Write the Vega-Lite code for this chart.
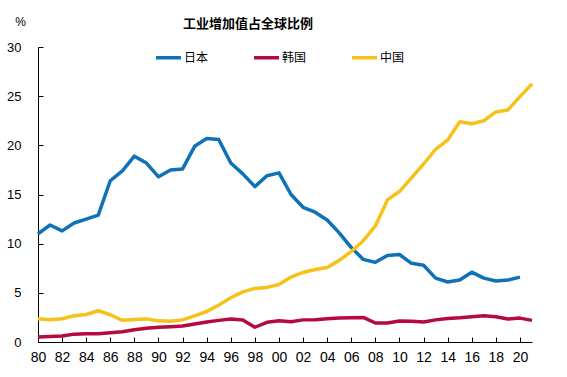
{
  "$schema": "https://vega.github.io/schema/vega-lite/v6.json",
  "autosize": "none",
  "padding": {"left": 38, "top": 47, "right": 35, "bottom": 35},
  "width": 494,
  "height": 295,
  "background": "white",
  "config": {"view": {"stroke": null}},
  "title": {
    "text": "工业增加值占全球比例",
    "font": "Noto Sans CJK SC",
    "fontSize": 13,
    "fontWeight": "bold",
    "color": "#000000",
    "anchor": "middle",
    "frame": "group",
    "dx": -37,
    "dy": 32,
    "offset": 16
  },
  "data": {
    "values": [
      {"year": 1980, "country": "日本", "value": 11.0},
      {"year": 1981, "country": "日本", "value": 11.9},
      {"year": 1982, "country": "日本", "value": 11.3},
      {"year": 1983, "country": "日本", "value": 12.1},
      {"year": 1984, "country": "日本", "value": 12.5},
      {"year": 1985, "country": "日本", "value": 12.9},
      {"year": 1986, "country": "日本", "value": 16.4},
      {"year": 1987, "country": "日本", "value": 17.4},
      {"year": 1988, "country": "日本", "value": 18.9},
      {"year": 1989, "country": "日本", "value": 18.2},
      {"year": 1990, "country": "日本", "value": 16.8},
      {"year": 1991, "country": "日本", "value": 17.5},
      {"year": 1992, "country": "日本", "value": 17.6},
      {"year": 1993, "country": "日本", "value": 19.9},
      {"year": 1994, "country": "日本", "value": 20.7},
      {"year": 1995, "country": "日本", "value": 20.6},
      {"year": 1996, "country": "日本", "value": 18.2},
      {"year": 1997, "country": "日本", "value": 17.1},
      {"year": 1998, "country": "日本", "value": 15.8},
      {"year": 1999, "country": "日本", "value": 16.9},
      {"year": 2000, "country": "日本", "value": 17.2},
      {"year": 2001, "country": "日本", "value": 15.0},
      {"year": 2002, "country": "日本", "value": 13.7},
      {"year": 2003, "country": "日本", "value": 13.2},
      {"year": 2004, "country": "日本", "value": 12.4},
      {"year": 2005, "country": "日本", "value": 11.1},
      {"year": 2006, "country": "日本", "value": 9.6},
      {"year": 2007, "country": "日本", "value": 8.4},
      {"year": 2008, "country": "日本", "value": 8.1},
      {"year": 2009, "country": "日本", "value": 8.8},
      {"year": 2010, "country": "日本", "value": 8.9},
      {"year": 2011, "country": "日本", "value": 8.0},
      {"year": 2012, "country": "日本", "value": 7.8},
      {"year": 2013, "country": "日本", "value": 6.5},
      {"year": 2014, "country": "日本", "value": 6.1},
      {"year": 2015, "country": "日本", "value": 6.3},
      {"year": 2016, "country": "日本", "value": 7.1},
      {"year": 2017, "country": "日本", "value": 6.5},
      {"year": 2018, "country": "日本", "value": 6.2},
      {"year": 2019, "country": "日本", "value": 6.3},
      {"year": 2020, "country": "日本", "value": 6.6},
      {"year": 1980, "country": "韩国", "value": 0.5},
      {"year": 1981, "country": "韩国", "value": 0.57},
      {"year": 1982, "country": "韩国", "value": 0.6},
      {"year": 1983, "country": "韩国", "value": 0.8},
      {"year": 1984, "country": "韩国", "value": 0.85},
      {"year": 1985, "country": "韩国", "value": 0.85},
      {"year": 1986, "country": "韩国", "value": 0.95},
      {"year": 1987, "country": "韩国", "value": 1.05},
      {"year": 1988, "country": "韩国", "value": 1.25},
      {"year": 1989, "country": "韩国", "value": 1.4},
      {"year": 1990, "country": "韩国", "value": 1.5},
      {"year": 1991, "country": "韩国", "value": 1.55},
      {"year": 1992, "country": "韩国", "value": 1.62},
      {"year": 1993, "country": "韩国", "value": 1.83},
      {"year": 1994, "country": "韩国", "value": 2.03},
      {"year": 1995, "country": "韩国", "value": 2.2},
      {"year": 1996, "country": "韩国", "value": 2.33},
      {"year": 1997, "country": "韩国", "value": 2.23},
      {"year": 1998, "country": "韩国", "value": 1.5},
      {"year": 1999, "country": "韩国", "value": 2.0},
      {"year": 2000, "country": "韩国", "value": 2.16},
      {"year": 2001, "country": "韩国", "value": 2.06},
      {"year": 2002, "country": "韩国", "value": 2.25},
      {"year": 2003, "country": "韩国", "value": 2.27},
      {"year": 2004, "country": "韩国", "value": 2.37},
      {"year": 2005, "country": "韩国", "value": 2.45},
      {"year": 2006, "country": "韩国", "value": 2.47},
      {"year": 2007, "country": "韩国", "value": 2.5},
      {"year": 2008, "country": "韩国", "value": 1.93},
      {"year": 2009, "country": "韩国", "value": 1.93},
      {"year": 2010, "country": "韩国", "value": 2.13},
      {"year": 2011, "country": "韩国", "value": 2.1},
      {"year": 2012, "country": "韩国", "value": 2.03},
      {"year": 2013, "country": "韩国", "value": 2.25},
      {"year": 2014, "country": "韩国", "value": 2.4},
      {"year": 2015, "country": "韩国", "value": 2.47},
      {"year": 2016, "country": "韩国", "value": 2.57},
      {"year": 2017, "country": "韩国", "value": 2.67},
      {"year": 2018, "country": "韩国", "value": 2.57},
      {"year": 2019, "country": "韩国", "value": 2.33},
      {"year": 2020, "country": "韩国", "value": 2.43},
      {"year": 2021, "country": "韩国", "value": 2.2},
      {"year": 1980, "country": "中国", "value": 2.37},
      {"year": 1981, "country": "中国", "value": 2.27},
      {"year": 1982, "country": "中国", "value": 2.37},
      {"year": 1983, "country": "中国", "value": 2.67},
      {"year": 1984, "country": "中国", "value": 2.8},
      {"year": 1985, "country": "中国", "value": 3.18},
      {"year": 1986, "country": "中国", "value": 2.77},
      {"year": 1987, "country": "中国", "value": 2.2},
      {"year": 1988, "country": "中国", "value": 2.3},
      {"year": 1989, "country": "中国", "value": 2.35},
      {"year": 1990, "country": "中国", "value": 2.15},
      {"year": 1991, "country": "中国", "value": 2.1},
      {"year": 1992, "country": "中国", "value": 2.25},
      {"year": 1993, "country": "中国", "value": 2.65},
      {"year": 1994, "country": "中国", "value": 3.1},
      {"year": 1995, "country": "中国", "value": 3.75},
      {"year": 1996, "country": "中国", "value": 4.5},
      {"year": 1997, "country": "中国", "value": 5.1},
      {"year": 1998, "country": "中国", "value": 5.45},
      {"year": 1999, "country": "中国", "value": 5.55},
      {"year": 2000, "country": "中国", "value": 5.85},
      {"year": 2001, "country": "中国", "value": 6.6},
      {"year": 2002, "country": "中国", "value": 7.07},
      {"year": 2003, "country": "中国", "value": 7.38},
      {"year": 2004, "country": "中国", "value": 7.58},
      {"year": 2005, "country": "中国", "value": 8.3},
      {"year": 2006, "country": "中国", "value": 9.2},
      {"year": 2007, "country": "中国", "value": 10.3},
      {"year": 2008, "country": "中国", "value": 11.8},
      {"year": 2009, "country": "中国", "value": 14.45},
      {"year": 2010, "country": "中国", "value": 15.3},
      {"year": 2011, "country": "中国", "value": 16.7},
      {"year": 2012, "country": "中国", "value": 18.1},
      {"year": 2013, "country": "中国", "value": 19.6},
      {"year": 2014, "country": "中国", "value": 20.55},
      {"year": 2015, "country": "中国", "value": 22.4},
      {"year": 2016, "country": "中国", "value": 22.2},
      {"year": 2017, "country": "中国", "value": 22.5},
      {"year": 2018, "country": "中国", "value": 23.4},
      {"year": 2019, "country": "中国", "value": 23.6},
      {"year": 2020, "country": "中国", "value": 24.95},
      {"year": 2021, "country": "中国", "value": 26.25}
    ]
  },
  "mark": {"type": "line", "strokeJoin": "round", "strokeCap": "butt"},
  "encoding": {
    "x": {
      "field": "year",
      "type": "quantitative",
      "scale": {"domain": [1980, 2021], "nice": false, "zero": false},
      "axis": {
        "title": null,
        "values": [1980, 1982, 1984, 1986, 1988, 1990, 1992, 1994, 1996, 1998, 2000, 2002, 2004, 2006, 2008, 2010, 2012, 2014, 2016, 2018, 2020],
        "labelExpr": "slice(toString(datum.value), 2)",
        "grid": false,
        "domainColor": "#000000",
        "domainWidth": 1,
        "tickColor": "#000000",
        "tickSize": -5,
        "labelPadding": 13,
        "labelFont": "Liberation Sans Narrow, Arial Narrow, Liberation Sans",
        "labelFontSize": 14,
        "labelColor": "#000000",
        "labelFlush": false,
        "labelOverlap": false
      }
    },
    "y": {
      "field": "value",
      "type": "quantitative",
      "scale": {"domain": [0, 30], "nice": false},
      "axis": {
        "values": [0, 5, 10, 15, 20, 25, 30],
        "grid": false,
        "domainColor": "#000000",
        "domainWidth": 1,
        "tickColor": "#000000",
        "tickSize": -5,
        "labelPadding": 22,
        "labelFont": "Liberation Sans Narrow, Arial Narrow, Liberation Sans",
        "labelFontSize": 13,
        "labelColor": "#000000",
        "title": "%",
        "titleAngle": 0,
        "titleX": -18,
        "titleY": -26,
        "titleAlign": "center",
        "titleBaseline": "middle",
        "titleFont": "Liberation Sans",
        "titleFontSize": 12,
        "titleFontWeight": "normal",
        "titleColor": "#000000"
      }
    },
    "color": {
      "field": "country",
      "type": "nominal",
      "scale": {"domain": ["日本", "韩国", "中国"], "range": ["#0F71B8", "#B50A3E", "#F5C21B"]},
      "legend": {
        "title": null,
        "orient": "none",
        "direction": "horizontal",
        "legendX": 116,
        "legendY": -4,
        "symbolType": "stroke",
        "symbolSize": 625,
        "labelOffset": 1,
        "columnPadding": 38,
        "labelFont": "Noto Sans CJK SC",
        "labelFontSize": 12,
        "labelColor": "#000000"
      }
    },
    "strokeWidth": {
      "field": "country",
      "type": "nominal",
      "scale": {"domain": ["日本", "韩国", "中国"], "range": [3.5, 3.5, 2.2]},
      "legend": null
    }
  }
}
